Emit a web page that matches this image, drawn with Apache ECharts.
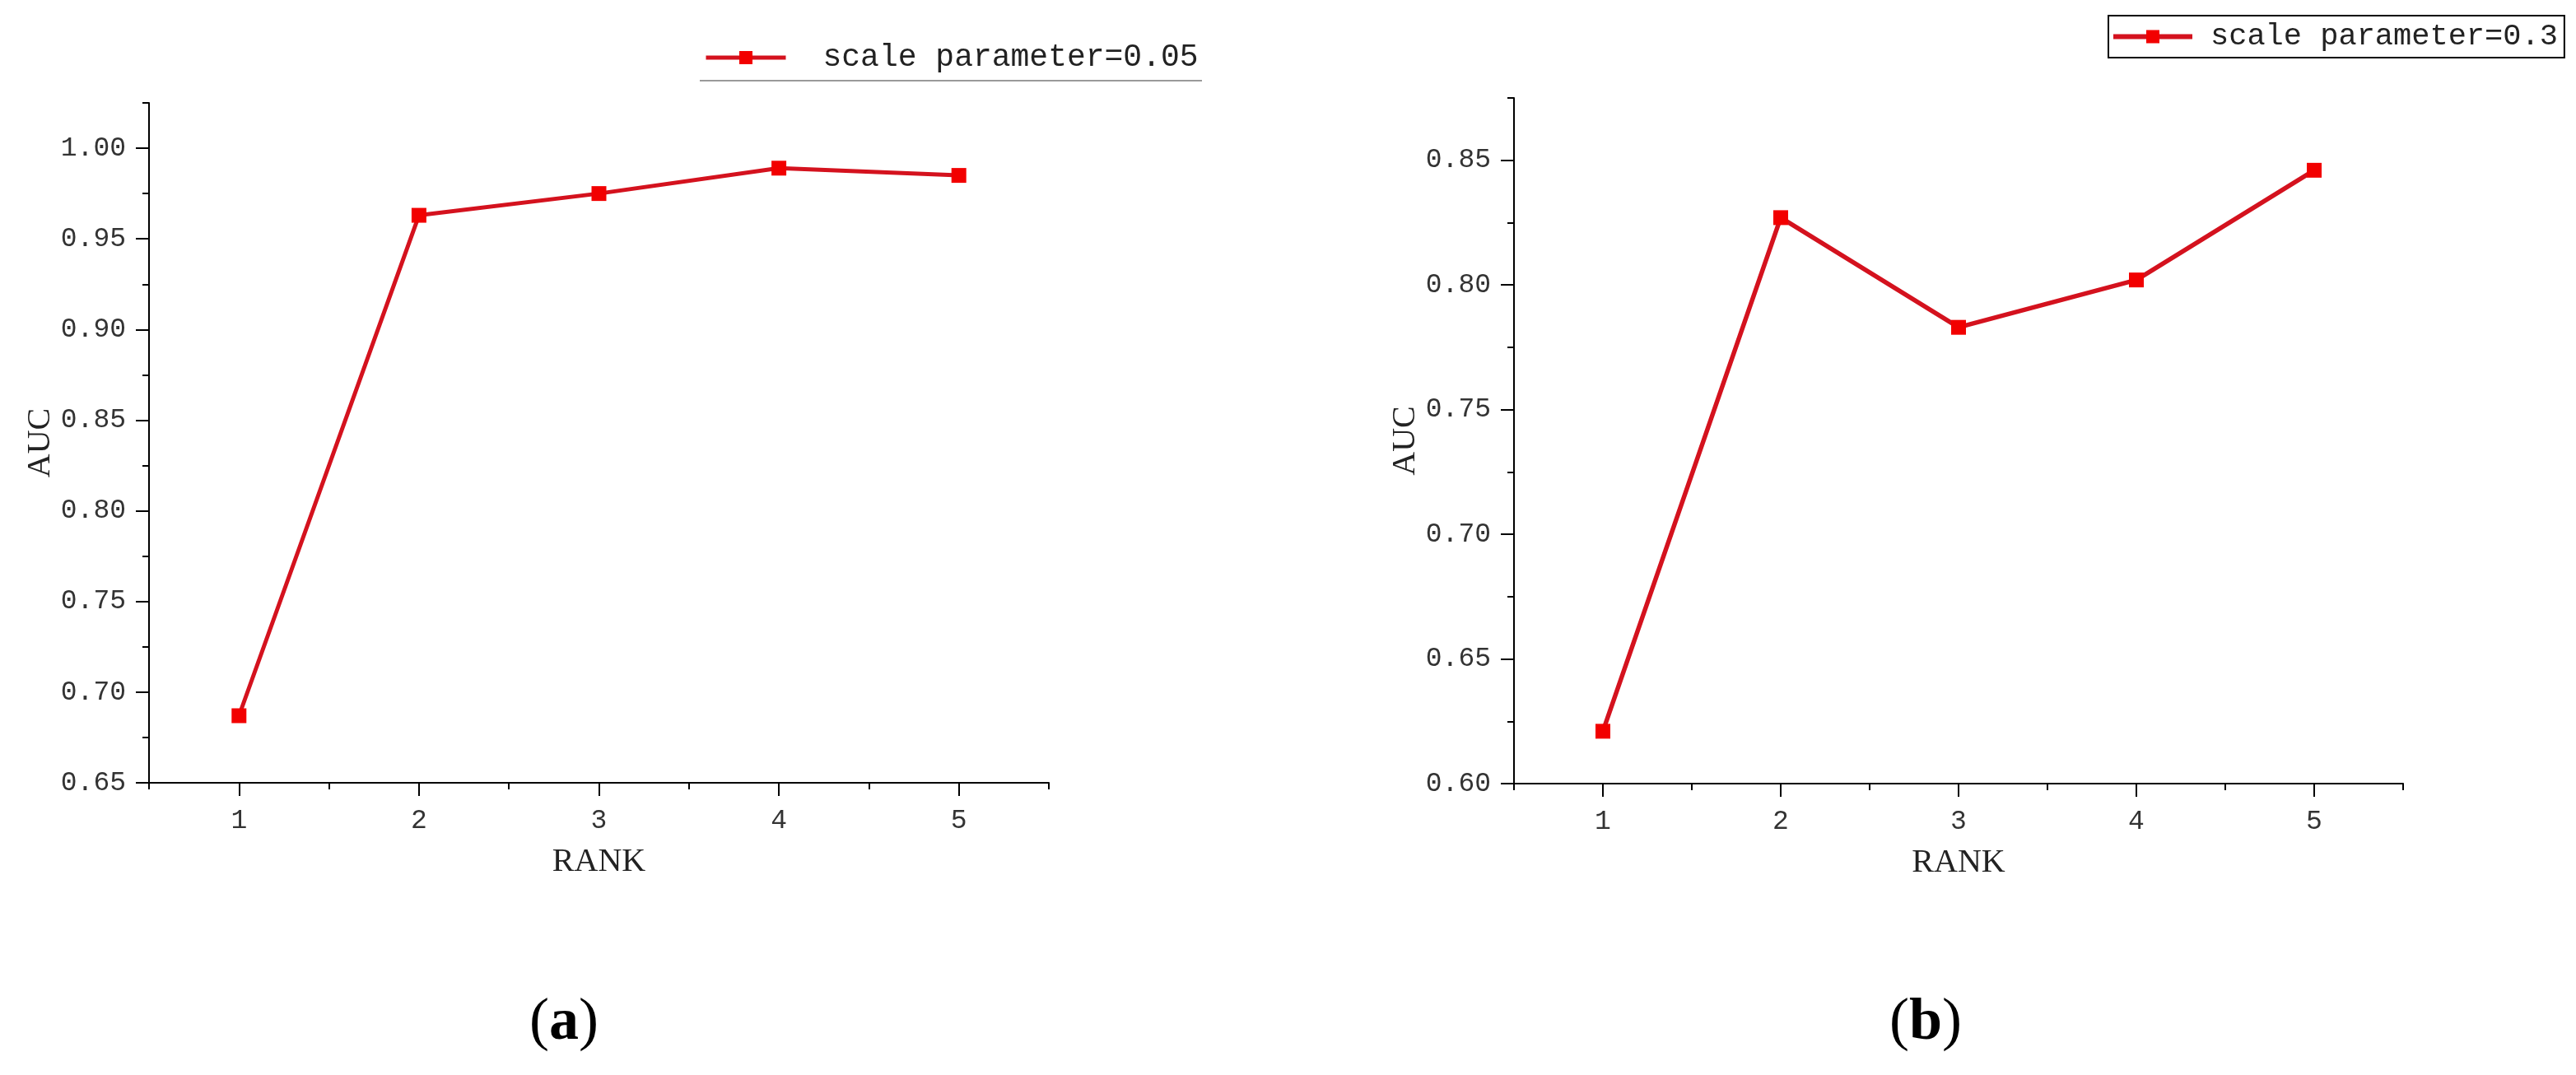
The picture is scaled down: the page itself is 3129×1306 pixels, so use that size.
<!DOCTYPE html>
<html>
<head>
<meta charset="utf-8">
<script src="https://cdn.jsdelivr.net/npm/echarts@6/dist/echarts.min.js"></script>
<style>
html,body{margin:0;padding:0;background:#fff;}
#chart{width:3129px;height:1306px;}
</style>
</head>
<body>
<div id="chart"></div>
<script>
// ---- data ----
const ranks = [1, 2, 3, 4, 5];
const aucA = [0.687, 0.963, 0.975, 0.989, 0.985];
const aucB = [0.621, 0.827, 0.783, 0.802, 0.846];
const nameA = 'scale parameter=0.05';
const nameB = 'scale parameter=0.3';
const xMajorTicks = [1, 2, 3, 4, 5];
const xMinorTicks = [0.5, 1.5, 2.5, 3.5, 4.5, 5.5];
const yTicksA = [0.65, 0.70, 0.75, 0.80, 0.85, 0.90, 0.95, 1.00];
const yMinorA = [0.675, 0.725, 0.775, 0.825, 0.875, 0.925, 0.975, 1.025];
const yTicksB = [0.60, 0.65, 0.70, 0.75, 0.80, 0.85];
const yMinorB = [0.625, 0.675, 0.725, 0.775, 0.825, 0.875];
const xRange = [0.5, 5.5];
const yRangeA = [0.65, 1.025];
const yRangeB = [0.60, 0.875];
const captions = ['a', 'b'];

// ---- styles ----
const monoFont = '"Liberation Mono", "DejaVu Sans Mono", monospace';
const serifFont = '"Liberation Serif", "DejaVu Serif", serif';
const lineColor = '#D4121E';
const markColor = '#F20000';

function xAxes(gi) {
  return [
    {
      gridIndex: gi, type: 'value', position: 'bottom', min: xRange[0], max: xRange[1],
      name: 'RANK', nameLocation: 'middle', nameGap: 76,
      nameTextStyle: { fontFamily: serifFont, fontSize: 40, color: '#222' },
      axisLine: { show: true, lineStyle: { color: '#000', width: 2 } },
      axisTick: { show: true, customValues: xMajorTicks, length: 16, lineStyle: { color: '#000', width: 2 } },
      axisLabel: { show: true, customValues: xMajorTicks, margin: 30, fontFamily: monoFont, fontSize: 33, color: '#333' },
      splitLine: { show: false }
    },
    {
      gridIndex: gi, type: 'value', position: 'bottom', offset: 0, min: xRange[0], max: xRange[1],
      axisLine: { show: false },
      axisTick: { show: true, customValues: xMinorTicks, length: 8, lineStyle: { color: '#000', width: 2 } },
      axisLabel: { show: false },
      splitLine: { show: false }
    }
  ];
}
function yAxes(gi, range, major, minor, gap) {
  return [
    {
      gridIndex: gi, type: 'value', position: 'left', min: range[0], max: range[1],
      name: 'AUC', nameLocation: 'middle', nameGap: gap, nameRotate: 90,
      nameTextStyle: { fontFamily: serifFont, fontSize: 40, color: '#222' },
      axisLine: { show: true, lineStyle: { color: '#000', width: 2 } },
      axisTick: { show: true, customValues: major, length: 16, lineStyle: { color: '#000', width: 2 } },
      axisLabel: { show: true, customValues: major, margin: 28, fontFamily: monoFont, fontSize: 33, color: '#333',
        formatter: v => v.toFixed(2) },
      splitLine: { show: false }
    },
    {
      gridIndex: gi, type: 'value', position: 'left', offset: 0, min: range[0], max: range[1],
      axisLine: { show: false },
      axisTick: { show: true, customValues: minor, length: 8, lineStyle: { color: '#000', width: 2 } },
      axisLabel: { show: false },
      splitLine: { show: false }
    }
  ];
}

const capRich = {
  p: { fontFamily: serifFont, fontSize: 72, fontWeight: 'normal', color: '#000' },
  b: { fontFamily: serifFont, fontSize: 72, fontWeight: 'bold', color: '#000' }
};

const chart = echarts.init(document.getElementById('chart'), null, { renderer: 'canvas' });
const option = {
  backgroundColor: '#fff',
  animation: false,
  title: [
    { text: '{p|(}{b|' + captions[0] + '}{p|)}', left: 680, top: 1202, textAlign: 'center',
      textStyle: { fontWeight: 'normal', rich: capRich } },
    { text: '{p|(}{b|' + captions[1] + '}{p|)}', left: 2334, top: 1202, textAlign: 'center',
      textStyle: { fontWeight: 'normal', rich: capRich } }
  ],
  legend: [
    { data: [nameA], left: 855, top: 51, padding: 0, itemWidth: 97, itemHeight: 20,
      lineStyle: { width: 5 },
      textStyle: { fontFamily: monoFont, fontSize: 38, color: '#222', padding: [0, 0, 0, 40] } },
    { data: [nameB], left: 2561, top: 19, padding: [7, 8, 7, 3], itemWidth: 96, itemHeight: 20,
      borderColor: '#000', borderWidth: 2,
      lineStyle: { width: 6 },
      textStyle: { fontFamily: monoFont, fontSize: 37, color: '#222', padding: [0, 0, 0, 17] } }
  ],
  graphic: [
    { type: 'line', shape: { x1: 850, y1: 98, x2: 1460, y2: 98 }, style: { stroke: '#9a9a9a', lineWidth: 2 } }
  ],
  grid: [
    { left: 181, top: 125, width: 1093, height: 826 },
    { left: 1839, top: 119, width: 1080, height: 833 }
  ],
  xAxis: [...xAxes(0), ...xAxes(1)],
  yAxis: [...yAxes(0, yRangeA, yTicksA, yMinorA, 112), ...yAxes(1, yRangeB, yTicksB, yMinorB, 110)],
  series: [
    { name: nameA, type: 'line', xAxisIndex: 0, yAxisIndex: 0,
      data: ranks.map((r, i) => [r, aucA[i]]),
      symbol: 'rect', symbolSize: 18,
      lineStyle: { color: lineColor, width: 5 },
      itemStyle: { color: markColor } },
    { name: nameB, type: 'line', xAxisIndex: 2, yAxisIndex: 2,
      data: ranks.map((r, i) => [r, aucB[i]]),
      symbol: 'rect', symbolSize: 18,
      lineStyle: { color: lineColor, width: 5.5 },
      itemStyle: { color: markColor } }
  ]
};
chart.setOption(option);
</script>
</body>
</html>
